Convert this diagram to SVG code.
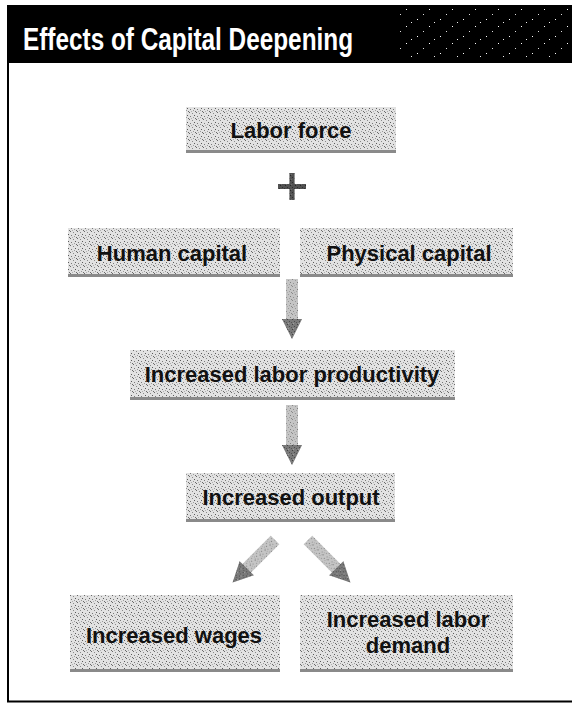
<svg xmlns="http://www.w3.org/2000/svg" width="572" height="704" viewBox="0 0 572 704">
<defs>
<pattern id="speck" width="7" height="7" patternUnits="userSpaceOnUse">
<rect width="7" height="7" fill="#e2e2e2"/>
<rect x="0" y="0" width="1" height="1" fill="#6a6a6a"/>
<rect x="3" y="1" width="1" height="1" fill="#8a8a8a"/>
<rect x="5" y="3" width="1" height="1" fill="#5a5a5a"/>
<rect x="1" y="4" width="1" height="1" fill="#7a7a7a"/>
<rect x="4" y="5" width="1" height="1" fill="#9a9a9a"/>
<rect x="6" y="6" width="1" height="1" fill="#6a6a6a"/>
<rect x="2" y="6" width="1" height="1" fill="#b0b0b0"/>
</pattern>
<pattern id="darkspeck" width="5" height="5" patternUnits="userSpaceOnUse">
<rect width="5" height="5" fill="#9a9a9a"/>
<rect x="0" y="0" width="1" height="1" fill="#333"/>
<rect x="2" y="2" width="1" height="1" fill="#444"/>
<rect x="4" y="3" width="1" height="1" fill="#555"/>
<rect x="1" y="4" width="1" height="1" fill="#ddd"/>
</pattern>
<pattern id="stars" width="23" height="17" patternUnits="userSpaceOnUse">
<rect x="3" y="2" width="1" height="1" fill="#fff"/>
<rect x="15" y="9" width="1" height="1" fill="#fff"/>
<rect x="9" y="14" width="1" height="1" fill="#ddd"/>
<rect x="20" y="5" width="1" height="1" fill="#eee"/>
</pattern>
<g id="arrow">
<rect x="-6" y="0" width="12" height="42" fill="url(#speck)"/>
<rect x="-6" y="0" width="12" height="42" fill="#a8a8a8" opacity="0.5"/>
<polygon points="-10,40 10,40 0,60" fill="url(#darkspeck)"/>
<polygon points="-10,40 10,40 0,60" fill="#555" opacity="0.45"/>
</g>
</defs>
<style>
.box { fill: url(#speck); }
.edge { fill: #8a8a8a; }
.lbl { font-family: "Liberation Sans", Arial, sans-serif; font-weight: bold; font-size: 22px; fill: #111; text-anchor: middle; }
.title { font-family: "Liberation Sans", Arial, sans-serif; font-weight: bold; font-size: 32px; fill: #fff; }
</style>

<g id="frame">
<rect x="7" y="5" width="565" height="58" fill="#000"/>
<rect x="400" y="8" width="172" height="50" fill="url(#stars)"/>
<text class="title" x="23" y="50" textLength="330" lengthAdjust="spacingAndGlyphs">Effects of Capital Deepening</text>
<line x1="8" y1="63" x2="8" y2="702" stroke="#000" stroke-width="2"/>
<line x1="7" y1="701.5" x2="572" y2="701.5" stroke="#000" stroke-width="2"/>
</g>

<g id="labor-force">
<rect class="box" x="186" y="107" width="210" height="46"/>
<rect class="edge" x="186" y="150" width="210" height="3"/>
<text class="lbl" x="291" y="138">Labor force</text>
</g>

<g id="human-capital">
<rect class="box" x="68" y="228" width="212" height="49"/>
<rect class="edge" x="68" y="274" width="212" height="3"/>
<text class="lbl" x="172" y="261">Human capital</text>
</g>

<g id="physical-capital">
<rect class="box" x="300" y="228" width="213" height="49"/>
<rect class="edge" x="300" y="274" width="213" height="3"/>
<text class="lbl" x="409" y="261">Physical capital</text>
</g>

<g id="labor-productivity">
<rect class="box" x="130" y="350" width="325" height="50"/>
<rect class="edge" x="130" y="397" width="325" height="3"/>
<text class="lbl" x="292" y="382">Increased labor productivity</text>
</g>

<g id="output">
<rect class="box" x="186" y="473" width="209" height="49"/>
<rect class="edge" x="186" y="519" width="209" height="3"/>
<text class="lbl" x="291" y="505">Increased output</text>
</g>

<g id="wages">
<rect class="box" x="70" y="595" width="210" height="77"/>
<rect class="edge" x="70" y="669" width="210" height="3"/>
<text class="lbl" x="174" y="643">Increased wages</text>
</g>

<g id="labor-demand">
<rect class="box" x="300" y="595" width="213" height="77"/>
<rect class="edge" x="300" y="669" width="213" height="3"/>
<text class="lbl" x="408" y="627">Increased labor</text>
<text class="lbl" x="408" y="653">demand</text>
</g>

<g id="connectors">
<g id="plus">
<rect x="289.5" y="173" width="5" height="27" fill="url(#darkspeck)"/>
<rect x="289.5" y="173" width="5" height="27" fill="#222" opacity="0.6"/>
<rect x="278" y="184" width="28" height="5" fill="url(#darkspeck)"/>
<rect x="278" y="184" width="28" height="5" fill="#222" opacity="0.6"/>
</g>
<use href="#arrow" transform="translate(292,279)"/>
<use href="#arrow" transform="translate(292,405)"/>
<use href="#arrow" transform="translate(275,540) rotate(45)"/>
<use href="#arrow" transform="translate(308,540) rotate(-45)"/>
</g>
</svg>
